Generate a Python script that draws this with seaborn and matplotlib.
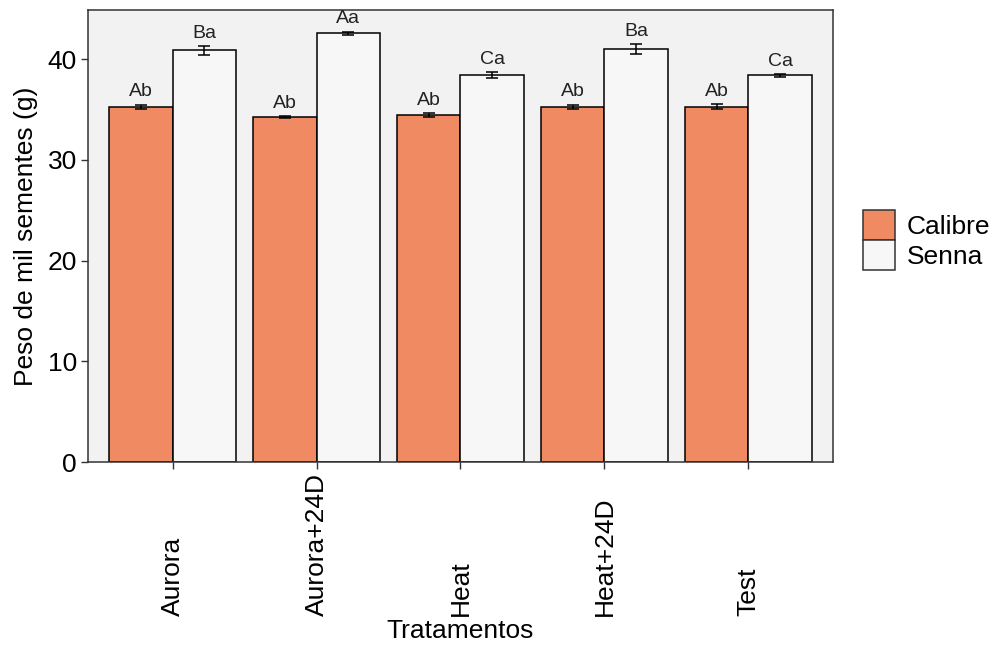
import matplotlib
matplotlib.use("Agg")
import matplotlib.pyplot as plt
import numpy as np
import pandas as pd
import seaborn as sns

# ── data ──
tratamentos = ["Aurora", "Aurora+24D", "Heat", "Heat+24D", "Test"]
cultivares = ["Calibre", "Senna"]
calibre_mean = [35.3, 34.3, 34.5, 35.3, 35.3]
calibre_err = [0.2, 0.1, 0.2, 0.2, 0.25]
senna_mean = [40.9, 42.6, 38.4, 41.0, 38.4]
senna_err = [0.45, 0.15, 0.3, 0.5, 0.15]
calibre_letters = ["Ab", "Ab", "Ab", "Ab", "Ab"]
senna_letters = ["Ba", "Aa", "Ca", "Ba", "Ca"]

df = pd.DataFrame({
    "Tratamentos": tratamentos * 2,
    "Cultivar": ["Calibre"] * 5 + ["Senna"] * 5,
    "peso": calibre_mean + senna_mean,
})
errs = [calibre_err, senna_err]
letters = [calibre_letters, senna_letters]
cores = ["#EF8A62", "#F7F7F7"]

sns.set_style("white")
plt.rcParams["font.family"] = ["Liberation Sans", "DejaVu Sans"]
plt.rcParams["text.color"] = "black"
plt.rcParams["axes.labelcolor"] = "black"
plt.rcParams["xtick.color"] = "black"
plt.rcParams["ytick.color"] = "black"

fig = plt.figure(figsize=(9.92, 6.46), dpi=100)
ax = fig.add_axes([88 / 992, 1 - 462 / 646, (833 - 88) / 992, (462 - 10) / 646])
ax.set_facecolor("#F2F2F2")

sns.barplot(data=df, x="Tratamentos", y="peso", hue="Cultivar",
            order=tratamentos, hue_order=cultivares,
            palette=cores, saturation=1, edgecolor="black", linewidth=1.1,
            width=0.88, errorbar=None, legend=False, ax=ax)

# error bars + letters on top of each bar
for cont, err, lab in zip(ax.containers, errs, letters):
    xs = [b.get_x() + b.get_width() / 2 for b in cont]
    ys = [b.get_height() for b in cont]
    ax.errorbar(xs, ys, yerr=err, fmt="none", ecolor="black",
                elinewidth=1.1, capsize=4.2, capthick=1.1, zorder=5)
    for x, y, e, t in zip(xs, ys, err, lab):
        ax.annotate(t, (x, y + e), xytext=(0, 3), textcoords="offset points",
                    ha="center", va="bottom", fontsize=14, color="#222222")

ax.set_xlim(-0.588, 4.588)
ax.set_ylim(0, 44.9)
ax.set_yticks([0, 10, 20, 30, 40])
ax.tick_params(axis="y", left=True, length=5, width=1, color="#333333",
               labelsize=19, pad=3)
ax.tick_params(axis="x", bottom=True, length=5, width=1, color="#333333",
               labelsize=19, pad=106)
ax.set_xticks(range(len(tratamentos)))
ax.set_xticklabels(tratamentos, rotation=90, va="bottom")
ax.set_xlabel("Tratamentos", fontsize=19, labelpad=2)
ax.set_ylabel("Peso de mil sementes (g)", fontsize=19, labelpad=7)
for s in ax.spines.values():
    s.set_visible(True)
    s.set_color("#333333")
    s.set_linewidth(1.1)

handles = [plt.Rectangle((0, 0), 1, 1, facecolor=c, edgecolor="#333333", linewidth=1.1)
           for c in cores]
fig.legend(handles, cultivares, loc="center left",
           bbox_to_anchor=(858 / 992, 1 - 240 / 646), frameon=False,
           fontsize=19, handlelength=1.2, handleheight=1.35,
           labelspacing=0.0, handletextpad=0.45, borderaxespad=0, borderpad=0.2)

fig.savefig("out.png", dpi=100)
